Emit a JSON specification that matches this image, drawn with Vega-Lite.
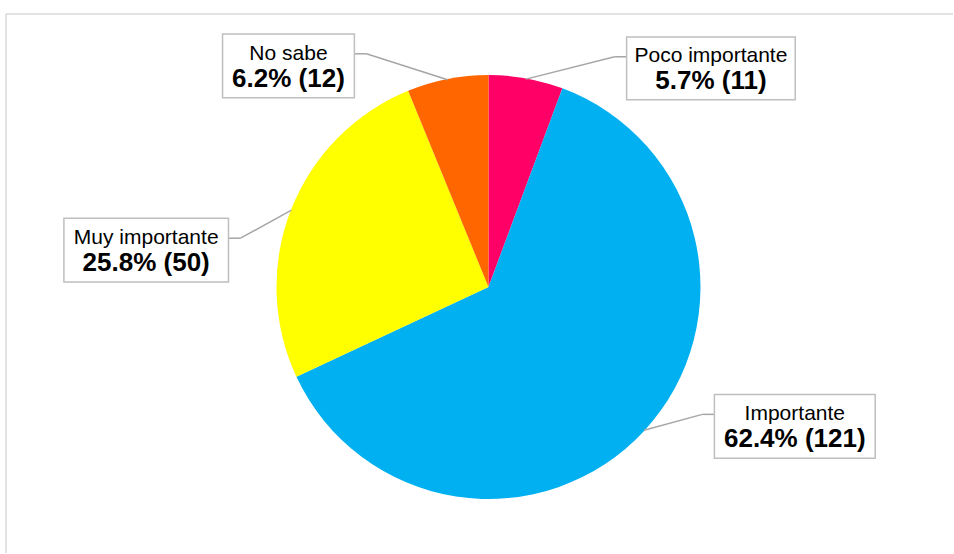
{
  "$schema": "https://vega.github.io/schema/vega-lite/v6.json",
  "width": 954,
  "height": 554,
  "autosize": {"type": "fit", "contains": "padding"},
  "padding": {"left": 5, "top": 13, "right": 0, "bottom": 0},
  "background": "white",
  "config": {"view": {"stroke": null}, "font": "Liberation Sans"},
  "data": {"values": [
    {"categoria": "Poco importante", "n": 11, "orden": 1, "bx1": 0.653, "bx2": 1.45, "by1": 0.887, "by2": 1.184},
    {"categoria": "Importante", "n": 121, "orden": 2, "bx1": 1.068, "bx2": 1.828, "by1": -0.811, "by2": -0.509},
    {"categoria": "Muy importante", "n": 50, "orden": 3, "bx1": -2.007, "bx2": -1.229, "by1": 0.024, "by2": 0.325},
    {"categoria": "No sabe", "n": 12, "orden": 4, "bx1": -1.257, "bx2": -0.634, "by1": 0.896, "by2": 1.198}
  ]},
  "transform": [
    {"joinaggregate": [{"op": "sum", "field": "n", "as": "total"}]},
    {"window": [{"op": "sum", "field": "n", "as": "cum"}], "sort": [{"field": "orden"}]},
    {"calculate": "(datum.cum - datum.n/2)/datum.total*2*PI", "as": "mid"},
    {"calculate": "sin(datum.mid)", "as": "ex"},
    {"calculate": "cos(datum.mid)", "as": "ey"},
    {"calculate": "datum.bx2 < 0 ? datum.bx2 : datum.bx1", "as": "ax"},
    {"calculate": "datum.bx2 < 0 ? datum.bx2 + 0.057 : datum.bx1 - 0.057", "as": "kx"},
    {"calculate": "datum.by2 - 0.094", "as": "ky"},
    {"calculate": "(datum.bx1 + datum.bx2)/2", "as": "cx"},
    {"calculate": "(datum.by1 + datum.by2)/2", "as": "cy"},
    {"calculate": "format(datum.n/datum.total, '.1%') + ' (' + datum.n + ')'", "as": "etiqueta"}
  ],
  "layer": [
    {
      "data": {"values": [{}]},
      "mark": {"type": "rule", "color": "#D9D9D9", "strokeWidth": 1.5},
      "encoding": {"y": {"value": 0}}
    },
    {
      "data": {"values": [{}]},
      "mark": {"type": "rule", "color": "#D9D9D9", "strokeWidth": 1.5},
      "encoding": {"x": {"value": 0}}
    },
    {
      "mark": {"type": "arc", "radius": 212},
      "encoding": {
        "theta": {"field": "n", "type": "quantitative", "stack": true},
        "order": {"field": "orden", "type": "quantitative"},
        "color": {"field": "categoria", "type": "nominal", "legend": null,
          "scale": {"domain": ["Poco importante", "Importante", "Muy importante", "No sabe"],
                    "range": ["#FF0066", "#00B0F0", "#FFFF00", "#FF6600"]}},
        "x": {"datum": 0, "type": "quantitative", "scale": {"domain": [-2.2807, 2.1958], "nice": false, "zero": false}, "axis": null},
        "y": {"datum": 0, "type": "quantitative", "scale": {"domain": [-1.2594, 1.2925], "nice": false, "zero": false}, "axis": null}
      }
    },
    {
      "mark": {"type": "rule", "color": "#A6A6A6", "strokeWidth": 1.5},
      "encoding": {
        "x": {"field": "ex", "type": "quantitative"},
        "y": {"field": "ey", "type": "quantitative"},
        "x2": {"field": "kx"},
        "y2": {"field": "ky"}
      }
    },
    {
      "mark": {"type": "rule", "color": "#A6A6A6", "strokeWidth": 1.5},
      "encoding": {
        "x": {"field": "kx", "type": "quantitative"},
        "y": {"field": "ky", "type": "quantitative"},
        "x2": {"field": "ax"},
        "y2": {"field": "ky"}
      }
    },
    {
      "mark": {"type": "rect", "fill": "white", "stroke": "#BFBFBF", "strokeWidth": 1.5},
      "encoding": {
        "x": {"field": "bx1", "type": "quantitative"},
        "x2": {"field": "bx2"},
        "y": {"field": "by1", "type": "quantitative"},
        "y2": {"field": "by2"}
      }
    },
    {
      "mark": {"type": "text", "fontSize": 21, "dy": -6, "baseline": "alphabetic", "align": "center", "color": "#000000"},
      "encoding": {
        "x": {"field": "cx", "type": "quantitative"},
        "y": {"field": "cy", "type": "quantitative"},
        "text": {"field": "categoria"}
      }
    },
    {
      "mark": {"type": "text", "fontSize": 26, "fontWeight": "bold", "dy": 21, "baseline": "alphabetic", "align": "center", "color": "#000000"},
      "encoding": {
        "x": {"field": "cx", "type": "quantitative"},
        "y": {"field": "cy", "type": "quantitative"},
        "text": {"field": "etiqueta"}
      }
    }
  ]
}
